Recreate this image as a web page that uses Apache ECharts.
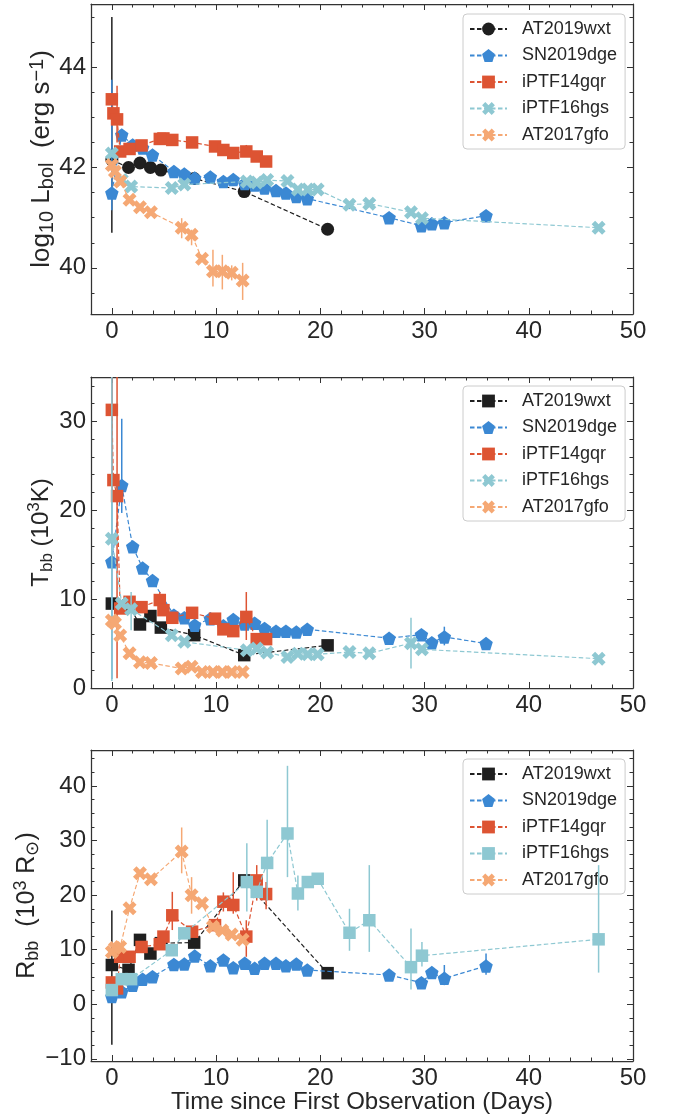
<!DOCTYPE html>
<html><head><meta charset="utf-8">
<script src="https://cdn.jsdelivr.net/npm/echarts@6/dist/echarts.min.js"></script>
<style>html,body{margin:0;padding:0;background:#fff}#c{width:674px;height:1119px}</style>
</head><body><div id="c"></div>
<script>
// ---------------- DATA ----------------
const names = ['AT2019wxt', 'SN2019dge', 'iPTF14gqr', 'iPTF16hgs', 'AT2017gfo'];

const wxtDays = [0, 1.6, 2.7, 3.7, 4.7, 7.9, 12.7, 20.7];
const wxtL = [42.15, 42.00, 42.09, 42.00, 41.95, 41.78, 41.52, 40.77];
const wxtT = [9.5, 9.3, 7.15, 8.1, 6.8, 5.95, 3.7, 4.8];
const wxtR = [7.2, 6.3, 11.8, 9.3, 11.2, 11.3, 22.7, 5.7];
const wxtLErr = {0: [40.70, 45.0]};
const wxtTErr = {};
const wxtRErr = {0: [-7.4, 17.2]};

const dgeDays = [0, 0.95, 2.0, 2.95, 3.9, 5.95, 6.95, 7.95, 9.45, 10.7, 11.65, 12.75, 13.7, 14.65, 15.75, 16.7, 17.7, 18.75, 26.6, 29.7, 30.7, 31.9, 35.9];
const dgeL = [41.49, 42.65, 42.45, 42.39, 42.25, 41.92, 41.87, 41.79, 41.81, 41.72, 41.76, 41.68, 41.65, 41.59, 41.54, 41.49, 41.42, 41.38, 41.00, 40.84, 40.88, 40.90, 41.04];
const dgeT = [14.2, 22.8, 15.9, 13.5, 12.1, 8.2, 7.9, 7.07, 7.8, 7.0, 7.7, 7.2, 7.3, 6.7, 6.4, 6.4, 6.3, 6.6, 5.6, 6.0, 5.1, 5.75, 5.0];
const dgeR = [1.4, 2.3, 3.5, 4.6, 5.05, 7.3, 7.37, 8.83, 7.06, 8.1, 6.7, 7.5, 6.6, 7.5, 7.5, 7.06, 7.37, 6.27, 5.36, 3.95, 5.8, 4.75, 7.0];
const dgeLErr = {0: [41.15, 43.75]};
const dgeTErr = {0: [1.0, 36], 1: [19.7, 30.3], 21: [4.8, 6.9]};
const dgeRErr = {21: [3.5, 7.2], 22: [5.4, 9.3]};

const gqrDays = [0, 0.15, 0.5, 0.8, 1.7, 2.85, 4.6, 4.95, 5.8, 7.7, 9.9, 10.7, 11.65, 12.9, 13.9, 14.8];
const gqrL = [43.36, 43.08, 42.96, 42.32, 42.37, 42.44, 42.57, 42.58, 42.55, 42.50, 42.42, 42.35, 42.29, 42.32, 42.22, 42.12];
const gqrT = [31.3, 23.4, 21.6, 8.95, 9.7, 9.1, 9.9, 8.76, 7.9, 8.46, 7.8, 6.6, 6.4, 8.0, 5.5, 5.5];
const gqrR = [4.0, 3.4, 2.9, 8.7, 8.7, 10.5, 11.0, 12.4, 16.3, 13.3, 14.5, 18.8, 18.2, 12.4, 22.7, 20.2];
const gqrLErr = {2: [42.5, 43.63], 13: [42.22, 42.45]};
const gqrTErr = {0: [22, 40], 2: [1.1, 40], 6: [9.2, 10.8], 13: [5.4, 10.8]};
const gqrRErr = {8: [13.6, 20.6], 11: [17, 20.5], 12: [16.6, 24.2], 13: [8.7, 15.4], 14: [19, 25.5], 15: [17.4, 22.4]};

const hgsDays = [0, 0.95, 1.85, 5.75, 6.95, 12.95, 13.9, 14.9, 16.85, 17.85, 18.8, 19.75, 22.8, 24.7, 28.7, 29.75, 46.7];
const hgsL = [42.28, 41.75, 41.62, 41.59, 41.66, 41.72, 41.70, 41.75, 41.73, 41.56, 41.56, 41.56, 41.26, 41.28, 41.11, 40.99, 40.80];
const hgsT = [16.8, 9.5, 8.85, 5.95, 5.2, 4.25, 4.45, 4.0, 3.5, 3.85, 3.8, 3.8, 4.05, 3.9, 5.05, 4.35, 3.3];
const hgsR = [2.6, 4.6, 4.6, 9.9, 13.0, 22.4, 20.6, 25.9, 31.3, 20.3, 22.4, 23.0, 13.1, 15.4, 6.8, 8.9, 11.9];
const hgsLErr = {};
const hgsTErr = {0: [0.8, 36], 2: [6.5, 10.8], 14: [2.2, 7.9]};
const hgsRErr = {5: [17, 29.5], 7: [19, 33.8], 8: [23.3, 43.7], 9: [17.2, 23.6], 12: [9.8, 17.5], 13: [9.6, 25.5], 14: [2.7, 13.9], 15: [6.9, 11.4], 16: [5.8, 25.5]};

const gfoDays = [0, 0.3, 0.8, 1.7, 2.7, 3.75, 6.7, 7.65, 8.65, 9.7, 10.6, 11.5, 12.55];
const gfoL = [42.05, 41.92, 41.72, 41.36, 41.21, 41.11, 40.80, 40.66, 40.18, 39.93, 39.93, 39.90, 39.75];
const gfoT = [7.6, 7.3, 5.9, 3.9, 2.9, 2.8, 2.2, 2.4, 1.8, 1.8, 1.8, 1.8, 1.8];
const gfoR = [9.6, 10.3, 10.5, 17.6, 24.0, 22.9, 28.0, 20.0, 18.5, 14.2, 13.5, 12.8, 11.8];
const gfoLErr = {6: [40.59, 40.99], 7: [40.45, 40.76], 9: [39.63, 40.36], 10: [39.57, 40.26], 11: [39.75, 40.05], 12: [39.36, 40.10]};
const gfoTErr = {};
const gfoRErr = {6: [24.0, 32.4], 7: [16.6, 23.3]};

const xTickStep = 10;
const xTitle = 'Time since First Observation (Days)';

// ---------------- STYLE ----------------
const FONT = "'Liberation Sans', Arial, sans-serif";
const TXT = '#262626';
const colors = ['#1f1f1f', '#3b88d3', '#dd5433', '#8ec8d2', '#f5a874'];
const plus = [[-1,-3],[1,-3],[1,-1],[3,-1],[3,1],[1,1],[1,3],[-1,3],[-1,1],[-3,1],[-3,-1],[-1,-1]];
const XSYM = 'path://' + plus.map((p, i) => {
  const x = (p[0] - p[1]) / Math.SQRT2, y = (p[0] + p[1]) / Math.SQRT2;
  return (i ? 'L' : 'M') + x.toFixed(3) + ',' + y.toFixed(3);
}).join(' ') + ' Z';
const PENT = 'path://M0,-1 L0.9511,-0.309 L0.5878,0.809 L-0.5878,0.809 L-0.9511,-0.309 Z';
const SYM = {circle: ['circle', 13], rect: ['rect', 12.5], pent: [PENT, 13.5], x: [XSYM, 14]};

const days = [wxtDays, dgeDays, gqrDays, hgsDays, gfoDays];
const panels = [
  {top: 4, height: 310, min: 39.08, max: 45.26, step: 2, split: 3, minor: 4, gap: 49, fs: 26, sfs: 20,
   title: 'log{sub|10} L{sub|bol}  (erg s{sup|−1})',
   vals: [wxtL, dgeL, gqrL, hgsL, gfoL], errs: [wxtLErr, dgeLErr, gqrLErr, hgsLErr, gfoLErr],
   syms: ['circle', 'pent', 'rect', 'x', 'x'], legendTop: 14},
  {top: 377, height: 311, min: 0, max: 35, step: 10, split: 3, minor: 5, gap: 50, fs: 24, sfs: 17,
   title: 'T{sub|bb} (10{sup|3}K)',
   vals: [wxtT, dgeT, gqrT, hgsT, gfoT], errs: [wxtTErr, dgeTErr, gqrTErr, hgsTErr, gfoTErr],
   syms: ['rect', 'pent', 'rect', 'x', 'x'], legendTop: 386},
  {top: 750, height: 311, min: -10.4, max: 46.6, step: 10, split: 5, minor: 4, gap: 64, fs: 25, sfs: 18,
   title: 'R{sub|bb}  (10{sup|3} R{sub|⊙})',
   vals: [wxtR, dgeR, gqrR, hgsR, gfoR], errs: [wxtRErr, dgeRErr, gqrRErr, hgsRErr, gfoRErr],
   syms: ['rect', 'pent', 'rect', 'rect', 'x'], legendTop: 759}
];

function isMult(v, s) { return Math.abs(v / s - Math.round(v / s)) < 1e-6; }
function fmt(v) { return String(Math.round(v)).replace('-', '−'); }

const axisLineStyle = {show: true, onZero: false, lineStyle: {color: '#333', width: 1.25}};
const tickStyle = {show: true, inside: true, length: 6, lineStyle: {color: '#333', width: 1}};
const minorStyle = {show: true, splitNumber: 5, length: 3.5, lineStyle: {color: '#333', width: 1}};

const grid = [], xAxis = [], yAxis = [], series = [], legend = [];
panels.forEach((p, pi) => {
  grid.push({left: 91, width: 542, top: p.top, height: p.height, containLabel: false});
  const xBase = {type: 'value', gridIndex: pi, min: -2, max: 50, splitNumber: 5,
    splitLine: {show: false}, axisLine: axisLineStyle, axisTick: tickStyle,
    minorTick: minorStyle};
  xAxis.push(Object.assign({}, xBase, {position: 'bottom',
    axisLabel: {show: true, margin: 5, fontSize: 24, color: TXT, fontFamily: FONT,
      formatter: v => isMult(v, xTickStep) ? fmt(v) : ''},
    name: pi === 2 ? xTitle : '', nameLocation: 'middle', nameGap: 29, nameMoveOverlap: false,
    nameTextStyle: {fontSize: 24, color: TXT, fontFamily: FONT}}));
  xAxis.push(Object.assign({}, xBase, {position: 'top', axisLabel: {show: false}}));
  const yBase = {type: 'value', gridIndex: pi, min: p.min, max: p.max, splitNumber: p.split,
    splitLine: {show: false}, axisLine: axisLineStyle, axisTick: tickStyle,
    minorTick: Object.assign({}, minorStyle, {splitNumber: p.minor})};
  yAxis.push(Object.assign({}, yBase, {position: 'left',
    axisLabel: {show: true, margin: 5, fontSize: 24, color: TXT, fontFamily: FONT,
      formatter: v => isMult(v, p.step) ? fmt(v) : ''},
    name: p.title, nameLocation: 'middle', nameGap: p.gap, nameMoveOverlap: false,
    nameTextStyle: {fontSize: p.fs, color: TXT, fontFamily: FONT, lineHeight: 30, verticalAlign: 'middle',
      rich: {
        sub: {fontSize: p.sfs, fontFamily: FONT, color: TXT, lineHeight: p.sfs, verticalAlign: 'bottom'},
        sup: {fontSize: p.sfs, fontFamily: FONT, color: TXT, lineHeight: p.sfs, verticalAlign: 'top'}
      }}}));
  yAxis.push(Object.assign({}, yBase, {position: 'right', axisLabel: {show: false}}));

  const xi = pi * 2, yi = pi * 2;
  const legendNames = [];
  names.forEach((n, k) => {
    const sname = n + '|' + pi;
    legendNames.push(sname);
    const s = SYM[p.syms[k]];
    const errPts = [];
    Object.keys(p.errs[k]).forEach(idx => {
      const e = p.errs[k][idx];
      errPts.push([days[k][+idx], e[0], e[1]]);
    });
    const col = colors[k];
    series.push({type: 'custom', name: sname + '_err', xAxisIndex: xi, yAxisIndex: yi,
      silent: true, z: 2 + k * 2, animation: false, data: errPts,
      renderItem(params, api) {
        const a = api.coord([api.value(0), api.value(1)]);
        const b = api.coord([api.value(0), api.value(2)]);
        const cs = params.coordSys;
        const clamp = y => Math.min(Math.max(y, cs.y), cs.y + cs.height);
        return {type: 'line', shape: {x1: a[0], y1: clamp(a[1]), x2: a[0], y2: clamp(b[1])},
          style: {stroke: col, lineWidth: 1.5}};
      }});
    series.push({type: 'line', name: sname, xAxisIndex: xi, yAxisIndex: yi,
      data: days[k].map((d, i) => [d, p.vals[k][i]]),
      symbol: s[0], symbolSize: s[1], showAllSymbol: true, z: 3 + k * 2,
      itemStyle: {color: col, opacity: 1, borderWidth: 0},
      lineStyle: {color: col, width: 1.2, type: [4.5, 2.5]},
      emphasis: {disabled: true}, animation: false, clip: true});
  });
  legend.push({orient: 'vertical', left: 463, top: p.legendTop, padding: [6, 8, 5, 6],
    itemGap: 8.5, itemWidth: 37, itemHeight: 16, data: legendNames, selectedMode: false,
    formatter: n => '  ' + n.split('|')[0],
    textStyle: {fontSize: 18, color: TXT, fontFamily: FONT, lineHeight: 18},
    backgroundColor: 'rgba(255,255,255,0.8)', borderColor: '#cccccc', borderWidth: 1, borderRadius: 4});
});

const chart = echarts.init(document.getElementById('c'), null, {renderer: 'canvas'});
chart.setOption({backgroundColor: '#fff', animation: false, grid, xAxis, yAxis, series, legend});
</script></body></html>
